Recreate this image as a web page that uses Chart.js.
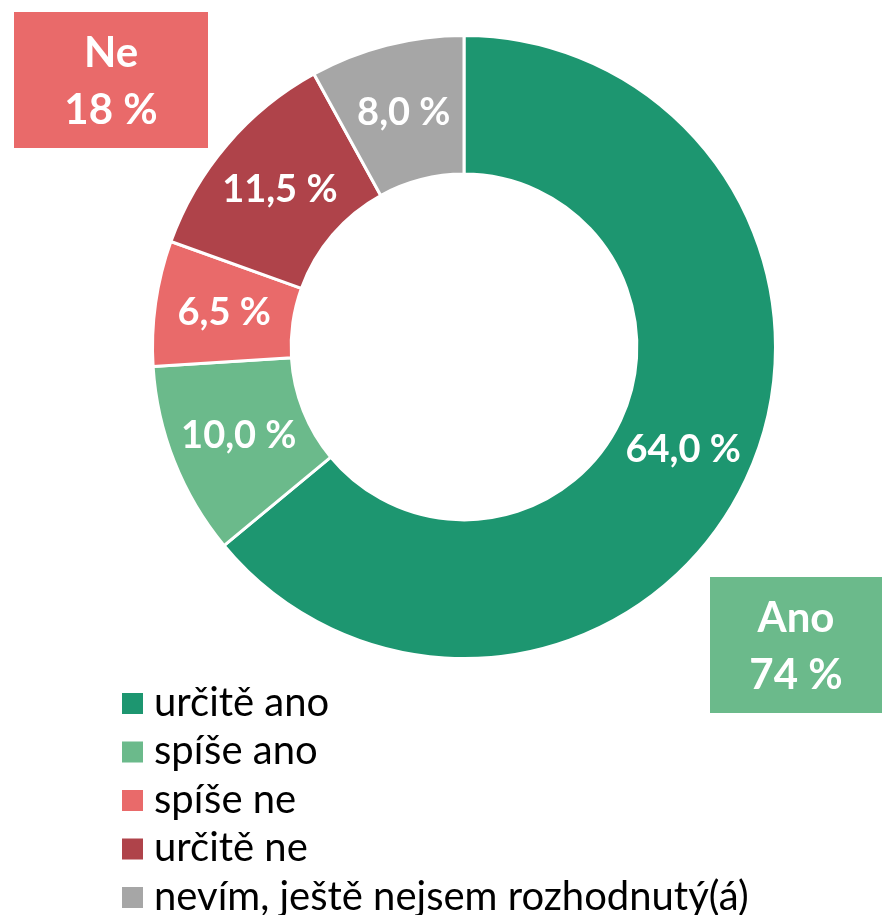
<!DOCTYPE html>
<html>
<head>
<meta charset="utf-8">
<script src="https://cdn.jsdelivr.net/npm/chart.js@4/dist/chart.umd.min.js"></script>
<style>
  html, body { margin: 0; padding: 0; background: #fff; }
</style>
</head>
<body>
<canvas id="donut" width="882" height="915"></canvas>
<script>
const kategorie = ["určitě ano", "spíše ano", "spíše ne", "určitě ne", "nevím, ještě nejsem rozhodnutý(á)"];
const hodnoty = [64.0, 10.0, 6.5, 11.5, 8.0];
const barvy = ["#1D9670", "#6BBA8B", "#E96A6A", "#AF434A", "#A6A6A6"];
const souhrnNazvy = ["Ne", "Ano"];
const souhrnHodnoty = [18, 74];
const souhrnBarvy = ["#E96A6A", "#6BBA8B"];

const fontName = "Lato, 'Open Sans', sans-serif";

// hodnoty uvnitr vysečí
const popisky = {
  id: "popisky",
  afterDatasetsDraw(chart) {
    const ctx = chart.ctx;
    const meta = chart.getDatasetMeta(0);
    ctx.save();
    ctx.fillStyle = "#fff";
    ctx.font = "bold 38px " + fontName;
    ctx.textAlign = "center";
    ctx.textBaseline = "middle";
    meta.data.forEach((arc, i) => {
      const p = arc.tooltipPosition();
      ctx.fillText(hodnoty[i].toFixed(1).replace(".", ",") + " %", p.x, p.y);
    });
    ctx.restore();
  }
};

// rameček Ne / Ano a legenda
const doplnky = {
  id: "doplnky",
  afterDraw(chart) {
    const ctx = chart.ctx;
    ctx.save();
    const boxy = [
      { x: 14, y: 12, w: 194, h: 136 },
      { x: 710, y: 577, w: 172, h: 136 }
    ];
    boxy.forEach((b, i) => {
      ctx.fillStyle = souhrnBarvy[i];
      ctx.fillRect(b.x, b.y, b.w, b.h);
      ctx.fillStyle = "#fff";
      ctx.font = "bold 42px " + fontName;
      ctx.textAlign = "center";
      ctx.textBaseline = "middle";
      ctx.fillText(souhrnNazvy[i], b.x + b.w / 2, b.y + 41);
      ctx.fillText(souhrnHodnoty[i] + " %", b.x + b.w / 2, b.y + 98);
    });

    ctx.font = "40px " + fontName;
    ctx.textAlign = "left";
    ctx.textBaseline = "middle";
    kategorie.forEach((k, i) => {
      const y = 703 + i * 48.5;
      ctx.fillStyle = barvy[i];
      ctx.fillRect(122, y - 10, 21, 21);
      ctx.fillStyle = "#000";
      ctx.fillText(k, 154, y);
    });
    ctx.restore();
  }
};

new Chart(document.getElementById("donut"), {
  type: "doughnut",
  data: {
    labels: kategorie,
    datasets: [{
      data: hodnoty,
      backgroundColor: barvy,
      borderColor: "#fff",
      borderWidth: 3
    }]
  },
  options: {
    responsive: false,
    animation: false,
    cutout: "55.5%",
    layout: { padding: { top: 34, bottom: 255, left: 151, right: 105 } },
    plugins: {
      legend: { display: false },
      tooltip: { enabled: false }
    }
  },
  plugins: [popisky, doplnky]
});
</script>
</body>
</html>
